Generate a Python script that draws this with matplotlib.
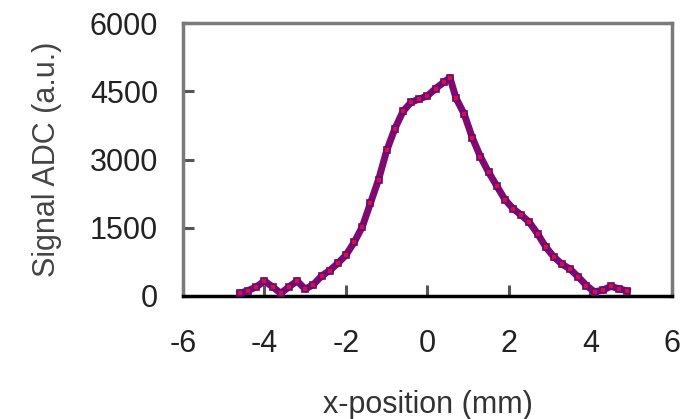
import matplotlib
matplotlib.use("Agg")
import matplotlib.pyplot as plt

plt.rcParams['font.family'] = ['Liberation Sans', 'DejaVu Sans']

# beam profile scan
x_pos = [-4.6, -4.4, -4.2, -4.0, -3.8, -3.6, -3.4, -3.2, -3.0, -2.8, -2.6, -2.4,
         -2.2, -2.0, -1.8, -1.6, -1.4, -1.2, -1.0, -0.8, -0.6, -0.4, -0.2, 0.0,
         0.2, 0.4, 0.55, 0.7, 0.9, 1.1, 1.3, 1.5, 1.7, 1.9, 2.1, 2.3, 2.5, 2.7,
         2.9, 3.1, 3.3, 3.5, 3.7, 3.9, 4.1, 4.3, 4.5, 4.7, 4.9]
signal = [60, 120, 200, 330, 200, 60, 200, 330, 150, 250, 440, 560,
          720, 900, 1180, 1520, 2040, 2560, 3200, 3680, 4060, 4260, 4330, 4400,
          4560, 4700, 4800, 4350, 4000, 3480, 3060, 2720, 2420, 2120, 1920, 1780, 1620, 1370,
          1080, 860, 700, 590, 420, 230, 90, 130, 210, 160, 110]

x_ticks = [-6, -4, -2, 0, 2, 4, 6]
y_ticks = [0, 1500, 3000, 4500, 6000]

fig = plt.figure(figsize=(6.89, 4.19), dpi=100)
ax = fig.add_axes([0.2656, 0.2936, 0.7097, 0.6514])

ax.plot(x_pos, signal, color='#800a6e', lw=5, zorder=3)
ax.plot(x_pos, signal, ls='none', marker='s', ms=4.5, mfc='#d8103c',
        mec='#640a80', mew=1.2, zorder=4)

ax.set_xlim(-6, 6)
ax.set_ylim(0, 6000)
ax.set_xticks(x_ticks)
ax.set_yticks(y_ticks)
ax.set_xticklabels([str(v) for v in x_ticks])
ax.set_yticklabels([str(v) for v in y_ticks])

for side in ['top', 'left', 'right']:
    ax.spines[side].set_color('#7a7a7a')
    ax.spines[side].set_linewidth(2.5)
ax.spines['bottom'].set_color('black')
ax.spines['bottom'].set_linewidth(2.5)

ax.tick_params(axis='both', direction='in', length=8, width=2.2,
               color='#555555', labelsize=22, labelcolor='#222222')
ax.tick_params(axis='x', pad=24)
ax.tick_params(axis='y', pad=18)

ax.set_xlabel('x-position (mm)', fontsize=22, color='#333333', labelpad=22)
ax.set_ylabel('Signal ADC (a.u.)', fontsize=22, color='#444444', labelpad=20)

fig.savefig('out.png', dpi=100)
